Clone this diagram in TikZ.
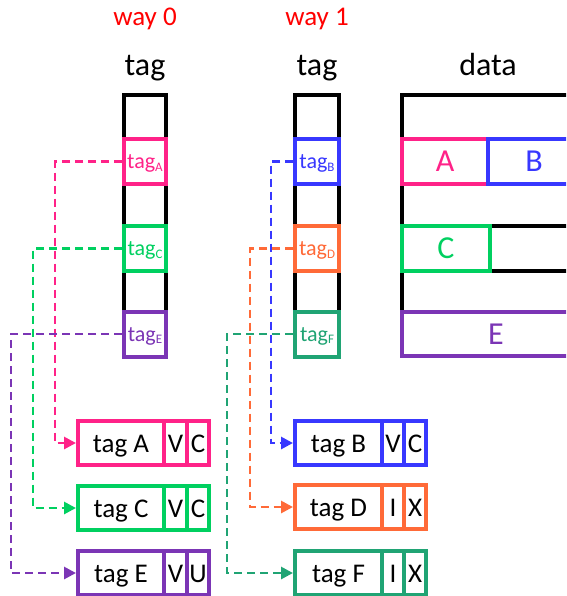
\documentclass[tikz,border=0pt]{standalone}
\usepackage{fontspec}
\setmainfont{Carlito}
\usetikzlibrary{arrows.meta}
\definecolor{pinkc}{HTML}{FF2288}
\definecolor{greenc}{HTML}{00D060}
\definecolor{purplec}{HTML}{7B35B5}
\definecolor{bluec}{HTML}{3838FF}
\definecolor{orangec}{HTML}{FF6A38}
\definecolor{tealc}{HTML}{20A474}
\definecolor{redc}{HTML}{FF0000}
\newcommand{\tg}[1]{tag\raisebox{-2.5pt}{\fontsize{13}{13}\selectfont #1}}
\tikzset{
  hdr/.style={anchor=base, inner sep=0pt, font=\fontsize{32}{36}\selectfont},
  wayl/.style={anchor=base, inner sep=0pt, text=redc, font=\fontsize{27}{30}\selectfont},
  tcell/.style={draw, line width=4pt, fill=white, inner sep=0pt, minimum width=42, minimum height=45,
    text height=14pt, text depth=0pt, font=\fontsize{22}{24}\selectfont},
  dcell/.style={draw, line width=4pt, fill=white, inner sep=0pt, minimum height=45,
    font=\fontsize{32}{36}\selectfont},
  bcell/.style={draw, line width=4pt, fill=white, inner sep=0pt, minimum height=44,
    text height=18pt, text depth=0pt, font=\fontsize{27}{30}\selectfont, text=black},
  conn/.style={line width=2.8pt, dash pattern=on 8pt off 5pt, -{Triangle[length=12pt,width=12pt]}},
  col/.style={line width=3.5pt, draw=black}
}
\begin{document}
\begin{tikzpicture}[x=1pt,y=-1pt]
\useasboundingbox (0,0) rectangle (566,596);
\clip (0,0) rectangle (566,596);
% headers
\node[wayl] (w0) at (145,26) {way 0};
\node[wayl] (w1) at (317,26) {way 1};
\node[hdr] (h0) at (145,76) {tag};
\node[hdr] (h1) at (317,76) {tag};
\node[hdr] (h2) at (488,76) {data};
% tag columns
\draw[col] (124,95) rectangle (166,356);
\draw[col] (295,95) rectangle (339,356);
% data frame
\draw[col] (402,356) -- (402,95) -- (575,95);
\draw[col] (488,226) -- (575,226);
\draw[col] (488,271) -- (575,271);
% tag cells way 0
\node[tcell, draw=pinkc, text=pinkc] (tA) at (145,161.5) {\tg{A}};
\node[tcell, draw=greenc, text=greenc] (tC) at (145,248.5) {\tg{C}};
\node[tcell, draw=purplec, text=purplec] (tE) at (145,334) {\tg{E}};
% tag cells way 1
\node[tcell, minimum width=44, draw=bluec, text=bluec] (tB) at (317,161.5) {\tg{B}};
\node[tcell, minimum width=44, draw=orangec, text=orangec] (tD) at (317,248.5) {\tg{D}};
\node[tcell, minimum width=44, draw=tealc, text=tealc] (tF) at (317,334) {\tg{F}};
% data cells
\node[dcell, minimum width=86, draw=pinkc, text=pinkc] (dA) at (445,161.5) {A};
\node[dcell, minimum width=92, draw=bluec, text=bluec] (dB) at (534,161.5) {B};
\node[dcell, minimum width=88, draw=greenc, text=greenc] (dC) at (446,248.5) {C};
\node[dcell, minimum width=188, minimum height=44, draw=purplec, text=purplec] (dE) at (496,334) {E};
% bottom entries way 0
\node[bcell, minimum width=86, draw=pinkc] (bA) at (121,443) {tag A};
\node[bcell, minimum width=23, draw=pinkc] (bAv) at (175.5,443) {V};
\node[bcell, minimum width=22, draw=pinkc] (bAc) at (198,443) {C};
\node[bcell, minimum width=86, draw=greenc] (bC) at (121,508) {tag C};
\node[bcell, minimum width=23, draw=greenc] (bCv) at (175.5,508) {V};
\node[bcell, minimum width=22, draw=greenc] (bCc) at (198,508) {C};
\node[bcell, minimum width=86, draw=purplec] (bE) at (121,573) {tag E};
\node[bcell, minimum width=23, draw=purplec] (bEv) at (175.5,573) {V};
\node[bcell, minimum width=22, draw=purplec] (bEc) at (198,573) {U};
% bottom entries way 1
\node[bcell, minimum width=87, draw=bluec] (bB) at (338.5,443) {tag B};
\node[bcell, minimum width=22, draw=bluec] (bBv) at (393,443) {V};
\node[bcell, minimum width=22, draw=bluec] (bBc) at (415,443) {C};
\node[bcell, minimum width=87, draw=orangec] (bD) at (338.5,507) {tag D};
\node[bcell, minimum width=22, draw=orangec] (bDv) at (393,507) {I};
\node[bcell, minimum width=22, draw=orangec] (bDc) at (415,507) {X};
\node[bcell, minimum width=87, draw=tealc] (bF) at (338.5,573) {tag F};
\node[bcell, minimum width=22, draw=tealc] (bFv) at (393,573) {I};
\node[bcell, minimum width=22, draw=tealc] (bFc) at (415,573) {X};
% connectors
\draw[conn, pinkc] (tA.west) -- ++(-67,0) |- (bA.west);
\draw[conn, greenc] (tC.west) -- ++(-89,0) |- (bC.west);
\draw[conn, purplec] (tE.west) -- ++(-111,0) |- (bE.west);
\draw[conn, bluec] (tB.west) -- ++(-22,0) |- (bB.west);
\draw[conn, orangec] (tD.west) -- ++(-43,0) |- (bD.west);
\draw[conn, tealc] (tF.west) -- ++(-66,0) |- (bF.west);
\end{tikzpicture}
\end{document}
